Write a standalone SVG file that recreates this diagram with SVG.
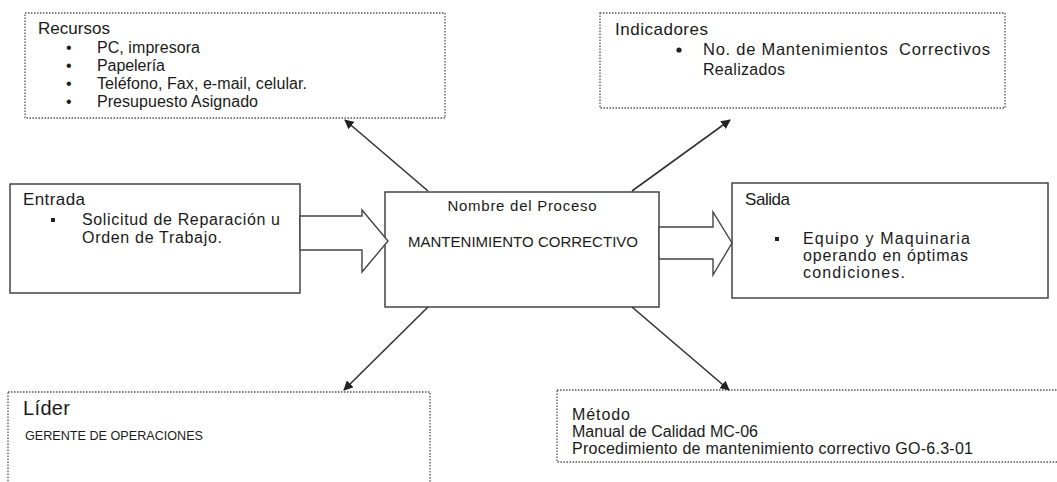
<svg xmlns="http://www.w3.org/2000/svg" width="1057" height="482" viewBox="0 0 1057 482">
<style>
text{font-family:"Liberation Sans",Arial,sans-serif;fill:#1a1a1a;}
.t{font-size:17px;}
.b{font-size:16px;}
.c{font-size:15px;}
.dot{fill:#fff;stroke:#555;stroke-width:1.3;stroke-dasharray:1.5 1.5;}
.sol{fill:#fff;stroke:#444;stroke-width:1.5;}
.con{stroke:#333;stroke-width:1.6;fill:none;marker-end:url(#ah);}
.blk{fill:#fff;stroke:#444;stroke-width:1.4;stroke-linejoin:miter;}
</style>
<defs>
<marker id="ah" viewBox="0 0 10 10" refX="9" refY="5" markerWidth="6" markerHeight="6" markerUnits="strokeWidth" orient="auto">
<path d="M0,0 L10,5 L0,10 z" fill="#222"/>
</marker>
</defs>
<rect width="1057" height="482" fill="#fff"/>

<g id="recursos">
<rect class="dot" x="25" y="13" width="420" height="105"/>
<text class="t" x="38" y="34" textLength="72">Recursos</text>
<text class="b" x="66" y="53">•</text>
<text class="b" x="97" y="53" textLength="103">PC, impresora</text>
<text class="b" x="66" y="71">•</text>
<text class="b" x="97" y="71" textLength="68">Papelería</text>
<text class="b" x="66" y="89">•</text>
<text class="b" x="97" y="89" textLength="210">Teléfono, Fax, e-mail, celular.</text>
<text class="b" x="66" y="107">•</text>
<text class="b" x="97" y="107" textLength="161">Presupuesto Asignado</text>
</g>

<g id="indicadores">
<rect class="dot" x="600" y="13" width="405" height="95"/>
<text class="t" x="615" y="35" textLength="93">Indicadores</text>
<circle cx="679" cy="50" r="2.6" fill="#222"/>
<text x="703" y="55" font-size="16.5" textLength="287" xml:space="preserve">No. de Mantenimientos  Correctivos</text>
<text class="b" x="703" y="75" textLength="82">Realizados</text>
</g>

<g id="entrada">
<rect class="sol" x="10" y="184" width="290" height="109"/>
<text class="t" x="23" y="205" textLength="62">Entrada</text>
<rect x="51" y="218" width="4" height="4" fill="#222"/>
<text class="b" x="82" y="225" textLength="198">Solicitud de Reparación u</text>
<text class="b" x="82" y="243" textLength="140">Orden de Trabajo.</text>
</g>

<g id="proceso">
<rect class="sol" x="385" y="192" width="274" height="115"/>
<text class="c" x="522" y="211" text-anchor="middle" textLength="149">Nombre del Proceso</text>
<text class="c" x="523" y="247" text-anchor="middle" textLength="230">MANTENIMIENTO CORRECTIVO</text>
</g>

<g id="salida">
<rect class="sol" x="732" y="183" width="316" height="115"/>
<text class="t" x="745" y="205" textLength="45">Salida</text>
<rect x="775" y="237" width="4" height="4" fill="#222"/>
<text class="b" x="803" y="244" textLength="167">Equipo y Maquinaria</text>
<text class="b" x="803" y="261" textLength="165">operando en óptimas</text>
<text class="b" x="803" y="278" textLength="102">condiciones.</text>
</g>

<g id="lider">
<rect class="dot" x="8" y="392" width="422" height="92"/>
<text x="23" y="415" font-size="20" textLength="47">Líder</text>
<text x="25" y="440" font-size="12.6" textLength="178">GERENTE DE OPERACIONES</text>
</g>

<g id="metodo">
<rect class="dot" x="557" y="390" width="520" height="72"/>
<text class="b" x="572" y="420" textLength="58">Método</text>
<text class="b" x="572" y="437" textLength="186">Manual de Calidad MC-06</text>
<text class="b" x="572" y="454" textLength="401">Procedimiento de mantenimiento correctivo GO-6.3-01</text>
</g>

<g id="connectors">
<polygon class="blk" points="300,216 362,216 362,210 388,241 362,272 362,250 300,250"/>
<polygon class="blk" points="659,227 713,227 713,212 732,243 713,275 713,259 659,259"/>
<line class="con" x1="428" y1="191" x2="345" y2="120"/>
<line class="con" x1="632" y1="191" x2="730" y2="120"/>
<line class="con" x1="428" y1="307" x2="344" y2="390"/>
<line class="con" x1="632" y1="307" x2="729" y2="390"/>
</g>
</svg>
